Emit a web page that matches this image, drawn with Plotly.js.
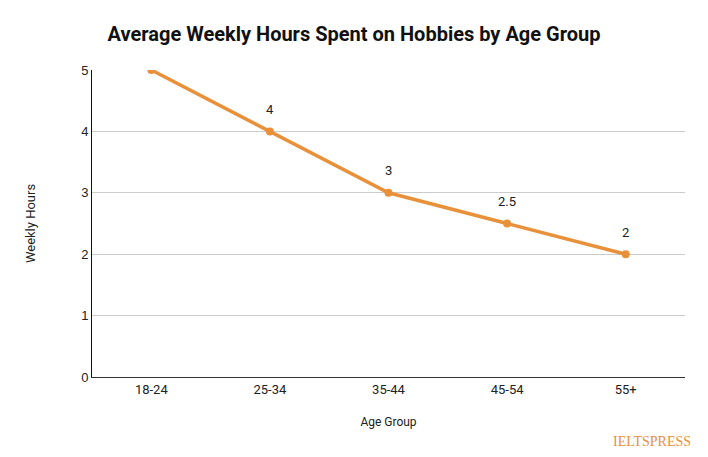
<!DOCTYPE html>
<html><head><meta charset="utf-8">
<script src="https://cdn.plot.ly/plotly-3.0.1.min.js"></script>
<style>html,body{margin:0;padding:0;background:#fff}#chart{width:708px;height:457px}</style>
</head><body><div id="chart"></div>
<script>
const ageGroups = ["18-24", "25-34", "35-44", "45-54", "55+"];
const weeklyHours = [5, 4, 3, 2.5, 2];
const pointLabels = ["5", "4", "3", "2.5", "2"];
const yTicks = [0, 1, 2, 3, 4, 5];
const yMax = 5;

const trace = {
  x: ageGroups, y: weeklyHours, type: "scatter", mode: "lines+markers",
  line: {color: "#E8913A", width: 3.5},
  marker: {color: "#E8913A", size: 8},
  cliponaxis: true, hoverinfo: "none"
};
const labelAnns = ageGroups.map((g, i) => ({
  x: g, y: weeklyHours[i], xref: "x", yref: "y", text: pointLabels[i], showarrow: false,
  yshift: 22, font: {family: "Roboto", size: 13, color: "#222"}, visible: weeklyHours[i] < yMax
}));
const layout = {
  width: 708, height: 457,
  margin: {l: 92, r: 23, t: 70, b: 80},
  paper_bgcolor: "#fff", plot_bgcolor: "#fff",
  showlegend: false,
  title: {text: "Average Weekly Hours Spent on Hobbies by Age Group", x: 0.5, xanchor: "center", xref: "container", y: 0.925, yanchor: "middle",
    font: {family: "Roboto", size: 20, color: "#111", weight: 700}},
  xaxis: {type: "category", range: [-0.5, 4.5], showgrid: false, showline: true, linecolor: "#333", linewidth: 1,
    ticks: "", tickfont: {family: "Roboto", size: 13, color: "#222"},
    title: {text: "Age Group", font: {family: "Roboto", size: 12, color: "#222"}, standoff: 22}},
  yaxis: {range: [0, yMax], tickvals: yTicks, showgrid: true, gridcolor: "#cccccc", gridwidth: 1,
    showline: true, linecolor: "#111", linewidth: 1, zeroline: false, ticks: "",
    tickfont: {family: "Liberation Sans, Arial", size: 13, color: "#222"},
    title: {text: "Weekly Hours", font: {family: "Roboto", size: 13, color: "#222"}, standoff: 42}},
  annotations: labelAnns.concat([{text: "IELTSPRESS", xref: "paper", yref: "paper", x: 1.0135, y: -0.2085, xanchor: "right", yanchor: "middle",
    showarrow: false, font: {family: "Liberation Serif, DejaVu Serif, serif", size: 14, color: "#E8913A"}}])
};
Plotly.newPlot("chart", [trace], layout, {displayModeBar: false, staticPlot: true});
</script></body></html>
